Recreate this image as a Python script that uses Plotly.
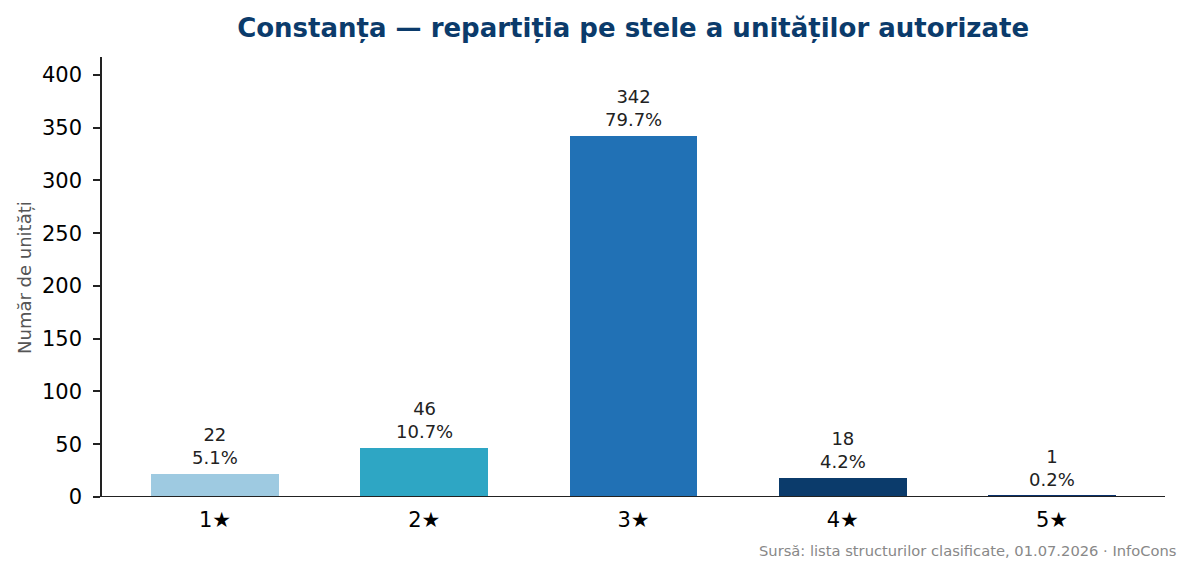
import plotly.graph_objects as go

# star categories and number of authorised units
categories = ["1★", "2★", "3★", "4★", "5★"]
units = [22, 46, 342, 18, 1]
colors = ["#9ecae1", "#2ea6c4", "#2171b5", "#0b3b6b", "#08306b"]

total = sum(units)
shares = [u / total * 100 for u in units]

fig = go.Figure()
fig.add_trace(go.Bar(
    x=list(range(len(categories))),
    y=units,
    width=0.61,
    marker=dict(color=colors, line=dict(width=0)),
    hoverinfo="skip",
))

for i, (u, s) in enumerate(zip(units, shares)):
    fig.add_annotation(
        x=i, y=u, text=f"{u}<br>{s:.1f}%",
        showarrow=False, yanchor="bottom", yshift=4,
        font=dict(size=18, color="#222222"),
    )

# source note, bottom right
fig.add_annotation(
    xref="paper", yref="paper", x=1.0122, y=-0.1205,
    xanchor="right", yanchor="middle", showarrow=False,
    text="Sursă: lista structurilor clasificate, 01.07.2026 · InfoCons",
    font=dict(size=14.7, color="#888888"),
)

# y axis title
fig.add_annotation(
    xref="paper", yref="paper", x=-0.0734, y=0.5,
    xanchor="center", yanchor="middle", showarrow=False, textangle=-90,
    text="Număr de unități",
    font=dict(size=18, color="#555555"),
)

# bottom spine drawn on top of the bars (like matplotlib)
fig.add_shape(
    type="line", xref="paper", yref="y", x0=0, x1=1, y0=0, y1=0,
    line=dict(color="#222222", width=2), layer="above",
)

fig.update_layout(
    width=1193, height=572,
    margin=dict(l=94, r=36, t=49, b=83),
    paper_bgcolor="white", plot_bgcolor="white",
    font=dict(family="DejaVu Sans", color="#000000"),
    title=dict(
        text="<b>Constanța — repartiția pe stele a unităților autorizate</b>",
        x=0.524, xanchor="center", y=0.965, yanchor="middle",
        font=dict(size=26, color="#0b3b6b"),
    ),
    showlegend=False,
    bargap=0,
)
fig.update_xaxes(
    range=[-0.54, 4.54],
    tickvals=list(range(len(categories))), ticktext=categories,
    showline=False,
    ticks="", showgrid=False, zeroline=False,
    ticklabelstandoff=8,
    tickfont=dict(size=21, color="#000000"),
)
fig.update_yaxes(
    range=[0, 417],
    tickvals=[0, 50, 100, 150, 200, 250, 300, 350, 400],
    showline=True, linecolor="#222222", linewidth=1.6,
    ticks="outside", ticklen=7, tickcolor="#222222", tickwidth=1.6,
    showgrid=False, zeroline=False,
    ticklabelstandoff=7,
    tickfont=dict(size=21, color="#000000"),
)

fig.write_html("out.html")
